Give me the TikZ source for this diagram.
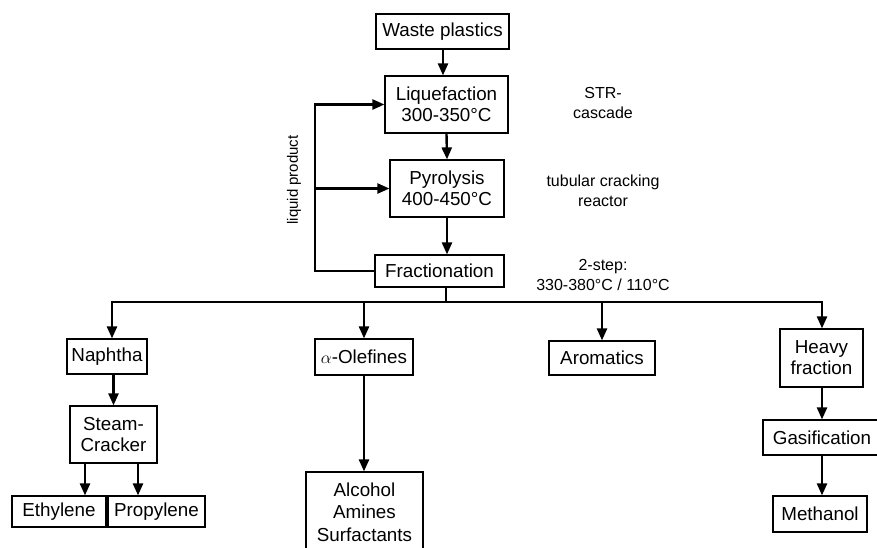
\documentclass[tikz,border=0pt]{standalone}
\usepackage{fontspec}
\setmainfont{Liberation Sans}
\usetikzlibrary{arrows.meta}
\begin{document}
\begin{tikzpicture}[x=1pt,y=-1pt,
  box/.style={draw, line width=1.2pt, inner sep=0pt, align=center,
    font=\fontsize{18.8}{21}\selectfont},
  side/.style={inner sep=0pt, align=center, font=\fontsize{16}{20}\selectfont},
  conn/.style={line width=2.4pt},
  arr/.style={line width=2.4pt, -{Triangle[length=12pt,width=10pt]}}]
\clip (0,0) rectangle (877,547);
\fill[white] (0,0) rectangle (877,547);
% process chain
\node[box, minimum width=133, minimum height=35] (waste) at (442.5,31.5) {Waste plastics};
\node[box, minimum width=123, minimum height=57] (liq) at (446.5,104.5) {Liquefaction\\300-350°C};
\node[box, minimum width=114, minimum height=57] (pyr) at (447,188.5) {Pyrolysis\\400-450°C};
\node[box, minimum width=129, minimum height=32] (frac) at (439.5,271) {Fractionation};
% side labels
\node[side] (lab1) at (603,103) {STR-\\cascade};
\node[side] (lab2) at (603,191) {tubular cracking\\reactor};
\node[side] (lab3) at (603,275) {2-step:\\330-380°C / 110°C};
\node[side, rotate=90, font=\fontsize{15}{18}\selectfont] (lab4) at (294,180) {liquid product};
% products
\node[box, minimum width=80, minimum height=35] (naph) at (107,356.5) {Naphtha};
\node[box, minimum width=98, minimum height=36] (olef) at (364,357) {$\alpha$-Olefines};
\node[box, minimum width=106, minimum height=34] (arom) at (602,358) {Aromatics};
\node[box, minimum width=83, minimum height=58] (heavy) at (821.5,358) {Heavy\\fraction};
\node[box, minimum width=87, minimum height=57] (steam) at (113.5,434.5) {Steam-\\Cracker};
\node[box, minimum width=94, minimum height=31] (ethyl) at (59,511.5) {Ethylene};
\node[box, minimum width=97, minimum height=31] (propyl) at (156.5,511.5) {Propylene};
\node[box, minimum width=117, minimum height=80, font=\fontsize{18.8}{22.5}\selectfont] (alc) at (364.5,512) {Alcohol\\Amines\\Surfactants};
\node[box, minimum width=118, minimum height=35] (gas) at (822,437.5) {Gasification};
\node[box, minimum width=94, minimum height=36] (meth) at (820,514) {Methanol};
% helper coordinates
\coordinate (fbx) at (315,0);
\coordinate (bus) at (446,302);
\coordinate (bl) at (112,302);
\coordinate (br) at (822,302);
\coordinate (e1) at (85,0);
\coordinate (p1) at (138,0);
\coordinate (m1) at (443,0);
% main chain
\draw[arr] (waste.south -| m1) -- (liq.north -| m1);
\draw[arr] (liq.south) -- (pyr.north);
\draw[arr] (pyr.south) -- (pyr.south |- frac.north);
% recycle loop
\draw[arr, line join=miter] (frac.west) -| (liq.west -| fbx) -- (liq.west);
\draw[arr] (pyr.west -| fbx) -- (pyr.west);
% distribution bus
\draw[conn] (frac.south -| bus) -- (bus);
\draw[conn, line cap=rect] (bl) -- (br);
\draw[arr] (bl) -- (bl |- naph.north);
\draw[arr] (olef.north |- bus) -- (olef.north);
\draw[arr] (arom.north |- bus) -- (arom.north);
\draw[arr] (br) -- (br |- heavy.north);
% sub chains
\draw[arr] (steam.north |- naph.south) -- (steam.north);
\draw[arr] (steam.south -| e1) -- (ethyl.north -| e1);
\draw[arr] (steam.south -| p1) -- (propyl.north -| p1);
\draw[arr] (olef.south) -- (alc.north -| olef.south);
\draw[arr] (heavy.south -| br) -- (gas.north -| br);
\draw[arr] (gas.south -| br) -- (meth.north -| br);
\end{tikzpicture}
\end{document}
